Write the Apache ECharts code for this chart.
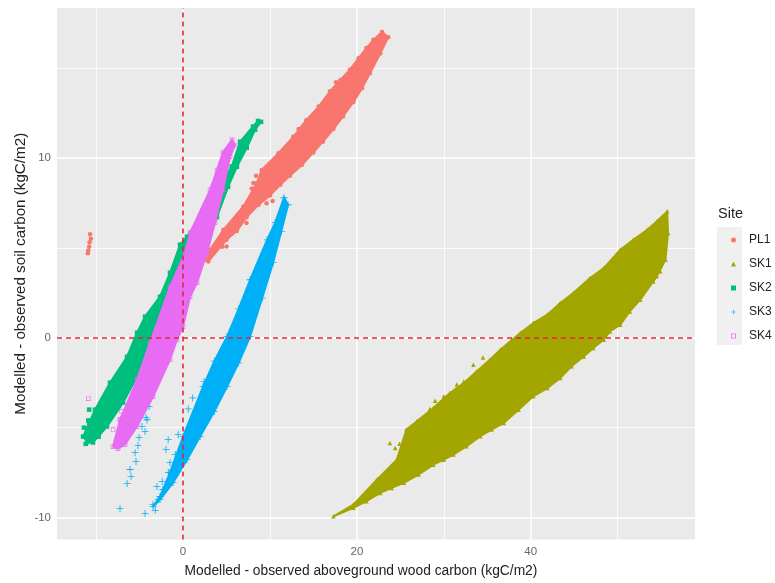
<!DOCTYPE html>
<html><head><meta charset="utf-8">
<style>html,body{margin:0;padding:0;background:#fff}#c{width:775px;height:583px;filter:blur(0.5px)}</style>
<script src="https://cdn.jsdelivr.net/npm/echarts@6/dist/echarts.min.js"></script>
</head><body><div id="c"></div>
<script>
const xTicks=[0,20,40];
const yTicks=[-10,0,10];
const xMajor=[0,20,40];
const xMinor=[-10,10,30,50];
const yMajor=[-10,0,10];
const yMinor=[-5,5,15];
const sites=['PL1','SK1','SK2','SK3','SK4'];
const outlinePL1=[[2.53,4.33],[3.1,4.89],[4.64,6.0],[6.94,7.3],[8.48,8.59],[9.05,9.33],[10.97,10.26],[12.7,11.18],[14.2,12.11],[15.6,12.85],[16.9,13.7],[18.1,14.33],[19.2,14.9],[20.2,15.54],[21.1,16.1],[21.9,16.56],[22.9,17.0],[23.6,16.7],[22.7,15.8],[21.5,14.7],[20.6,13.87],[19.6,13.1],[18.4,12.3],[17.3,11.6],[16.1,10.9],[15.0,10.3],[13.7,9.61],[12.3,9.0],[11.2,8.5],[10.0,7.9],[8.7,7.39],[7.3,6.7],[6.2,5.93],[5.0,5.44],[2.9,4.24]];
const outlineSK1=[[17.3,-9.93],[19.6,-9.28],[22.3,-7.89],[24.6,-6.78],[25.7,-5.11],[26.9,-4.65],[28.8,-3.91],[30.7,-3.07],[32.3,-2.52],[33.8,-1.87],[35.3,-1.22],[36.5,-0.67],[38.8,0.26],[40.3,0.81],[41.9,1.28],[43.4,1.93],[44.9,2.48],[46.8,3.31],[48.4,3.87],[50.3,4.89],[51.8,5.44],[53.4,6.0],[54.5,6.46],[55.7,7.02],[55.8,5.82],[55.5,4.33],[54.5,3.41],[54.1,3.13],[52.6,2.11],[51.4,1.46],[50.3,0.72],[49.1,0.35],[48.4,-0.11],[47.2,-0.57],[46.1,-1.04],[44.7,-1.59],[43.4,-2.24],[41.9,-2.8],[40.3,-3.26],[38.6,-4.0],[36.9,-4.74],[35.5,-5.11],[34.2,-5.48],[32.6,-6.04],[31.1,-6.5],[30.0,-6.78],[28.8,-7.06],[27.1,-7.61],[25.4,-8.07],[24.0,-8.35],[22.7,-8.63],[21.1,-9.09],[19.6,-9.46]];
const outlineSK2=[[-11.5,-5.5],[-10.13,-4.0],[-8.4,-2.5],[-6.44,-1.06],[-5.29,0.28],[-4.37,1.17],[-2.65,2.28],[-1.5,3.61],[-0.35,5.17],[0.46,5.61],[5.6,9.52],[6.56,10.9],[8.05,11.74],[8.63,12.05],[8.98,12.0],[8.29,11.56],[7.33,10.56],[6.2,9.5],[5.18,8.39],[3.9,6.7],[2.76,5.28],[-4.03,-0.28],[-5.29,-2.17],[-6.9,-3.61],[-8.75,-4.94],[-10.36,-5.83],[-11.0,-5.8]];
const outlineSK3=[[-3.45,-9.39],[-2.65,-8.83],[-1.5,-7.5],[0,-5.5],[2.3,-2.72],[3.6,-1.3],[5.06,0.06],[6.4,1.6],[7.71,3.22],[9.67,5.44],[10.6,6.4],[11.62,7.78],[12.08,7.39],[11.3,5.9],[10.36,4.17],[9.1,2.2],[7.71,0.06],[6.4,-1.4],[5.06,-2.72],[3.6,-4.1],[1.96,-5.5],[0.46,-6.78],[-1.15,-8.06],[-2.65,-9.0]];
const outlineSK4=[[-8.06,-6.06],[-7.25,-4.56],[-5.29,-2.33],[-3.8,-0.28],[-1.5,2.83],[0.23,4.72],[0.81,5.83],[3.11,8.22],[3.91,9.33],[4.6,10.33],[5.64,11.0],[5.98,10.72],[5.41,10.06],[4.6,8.22],[3.68,6.39],[2.76,4.72],[1.61,3.06],[0.81,2.28],[0,0.61],[-0.69,-0.11],[-1.5,-1.22],[-3.45,-3.28],[-5.29,-4.94],[-6.67,-5.94],[-7.48,-6.17]];
const straysPL1=[[-10.7,5.75],[-10.6,5.5],[-10.75,5.3],[-10.8,5.05],[-10.9,4.85],[-10.95,4.7],[2.9,4.7],[3.8,5.0],[4.4,5.5],[5.8,6.3],[7.9,8.3],[8.4,9.0],[10.3,7.6],[11.4,8.9],[13.3,11.6],[17.6,14.2],[21.8,15.3],[8.1,8.6],[7.7,7.57],[9.6,7.48],[7.3,6.37],[5.0,5.07],[4.3,5.45],[3.5,4.9],[2.88,4.33],[3.45,4.89],[4.5,5.06],[4.83,5.44],[5.18,6.0]];
const straysSK1=[[23.8,-5.85],[28.4,-3.96],[30.0,-3.26],[32.3,-2.43],[24.9,-5.9],[25.4,-6.4],[26.6,-5.5],[27.4,-5.9],[49.9,3.9],[54.9,3.7],[37.8,-0.1],[33.4,-1.5],[34.5,-1.1],[31.5,-2.6],[29.0,-3.5],[24.8,-6.59],[24.4,-6.13],[25.9,-5.3],[22.7,-7.8]];
const straysSK2=[[-10.8,-4.0],[-11.4,-5.0],[-10.9,-4.6],[-11.2,-5.9],[-9.7,-5.5],[-10.8,-4.8]];
const straysSK3=[[2.42,-2.43],[1.11,-3.35],[0.6,-3.96],[-0.56,-5.39],[-1.71,-5.67],[-1.96,-6.22],[-0.9,-6.5],[-1.5,-6.95],[-1.7,-7.5],[-2.4,-8.0],[-3.0,-8.28],[-2.3,-8.44],[-2.88,-9.0],[-3.45,-9.28],[-3.2,-9.6],[-4.37,-9.78],[-7.25,-9.5],[-3.9,-3.83],[-4.26,-4.44],[-4.14,-4.56],[-4.72,-4.94],[-4.37,-5.22],[-5.06,-5.56],[-5.18,-6.0],[-5.52,-6.39],[-5.41,-6.89],[-6.1,-7.33],[-5.98,-7.72],[-6.44,-8.11]];
const straysSK4=[[-10.9,-3.39],[-8.05,-5.11],[-7.25,-4.56],[-7.06,-4.09]];
const outlines=[outlinePL1,outlineSK1,outlineSK2,outlineSK3,outlineSK4];
const strays=[straysPL1,straysSK1,straysSK2,straysSK3,straysSK4];
const colors=['#F8766D','#A3A500','#00BF7D','#00B0F6','#E76BF3'];
const shapes=['circle','triangle','rect',
 'path://M4.4 0H5.6V4.4H10V5.6H5.6V10H4.4V5.6H0V4.4H4.4Z',
 'path://M0 0H10V10H0Z M1.5 1.5V8.5H8.5V1.5Z'];
const sizes=[4.5,4.5,4.5,7,4.5];
const series=[];
const gridLine=(axis,v,w)=>({[axis]:v,lineStyle:{color:'#fff',width:w,type:'solid'}});
series.push({name:'grid',type:'scatter',data:[],silent:true,z:1,markLine:{silent:true,symbol:'none',label:{show:false},animation:false,z:1,
 data:[...xMinor.map(v=>gridLine('xAxis',v,0.8)),...yMinor.map(v=>gridLine('yAxis',v,0.8)),...xMajor.map(v=>gridLine('xAxis',v,1.5)),...yMajor.map(v=>gridLine('yAxis',v,1.5))]}});
sites.forEach((s,i)=>{
 series.push({name:s+' body',type:'custom',silent:true,z:2+i*2,data:[0],clip:true,coordinateSystem:'cartesian2d',
  renderItem:(p,api)=>({type:'polygon',shape:{points:outlines[i].map(d=>api.coord(d))},style:{fill:colors[i],stroke:colors[i],lineWidth:2}})});
 series.push({name:s,type:'scatter',z:3+i*2,symbol:shapes[i],symbolSize:sizes[i],itemStyle:{color:colors[i],opacity:1},data:[...outlines[i],...strays[i]]});
});
const red={color:'#E3243B',width:1.6,type:[5,4]};
series.push({name:'ref',type:'scatter',data:[],silent:true,z:20,markLine:{silent:true,symbol:'none',label:{show:false},animation:false,z:20,
 data:[{xAxis:0,lineStyle:red},{yAxis:0,lineStyle:red}]}});
const axisCommon={type:'value',scale:false,splitLine:{show:false},axisLine:{show:false},
 axisTick:{show:true,length:3,lineStyle:{color:'#555',width:1}},nameLocation:'middle',nameMoveOverlap:false};
const chart=echarts.init(document.getElementById('c'),null,{renderer:'canvas'});
chart.setOption({animation:false,backgroundColor:'#fff',
 grid:{left:57,right:80,top:8,bottom:43,show:true,backgroundColor:'#EAEAEA',borderWidth:0,containLabel:false},
 xAxis:{...axisCommon,min:-14.5,max:58.9,name:'Modelled - observed aboveground wood carbon (kgC/m2)',nameGap:24.5,
  nameTextStyle:{color:'#222',fontSize:13.8,fontFamily:'Liberation Sans',padding:[0,30,0,0]},
  axisTick:{...axisCommon.axisTick,customValues:xTicks},
  axisLabel:{customValues:xTicks,color:'#666',fontSize:11.5,fontFamily:'Liberation Sans',margin:6}},
 yAxis:{...axisCommon,min:-11.22,max:18.33,name:'Modelled - observed soil carbon (kgC/m2)',nameGap:29,
  nameTextStyle:{color:'#222',fontSize:15.2,fontFamily:'Liberation Sans'},
  axisTick:{...axisCommon.axisTick,customValues:yTicks},
  axisLabel:{customValues:yTicks,color:'#666',fontSize:11.5,fontFamily:'Liberation Sans',margin:6}},
 legend:{data:sites,orient:'vertical',left:726,top:229,itemWidth:5,itemHeight:5,itemGap:12,selectedMode:false,
  textStyle:{color:'#222',fontSize:12,fontFamily:'Liberation Sans',padding:[0,0,0,8]}},
 graphic:[
  {type:'rect',z:-1,silent:true,shape:{x:717,y:227,width:25,height:118},style:{fill:'#F0F0F0'}},
  {type:'text',silent:true,left:718,top:206,style:{text:'Site',fill:'#222',fontSize:14.5,fontFamily:'Liberation Sans'}}
 ],
 series});
</script></body></html>
